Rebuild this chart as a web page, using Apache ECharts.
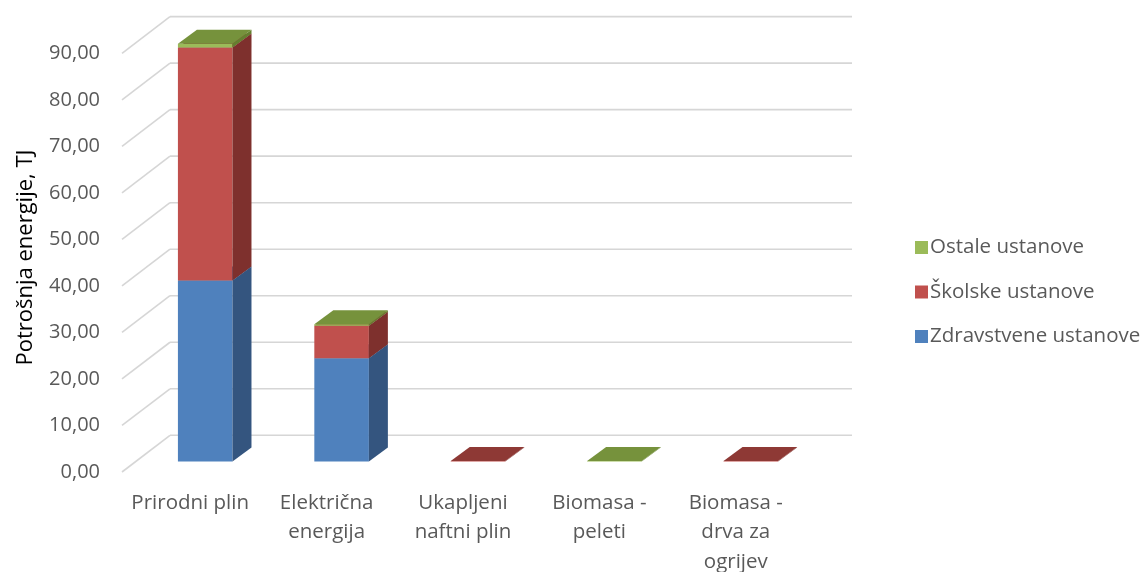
<!DOCTYPE html>
<html>
<head>
<meta charset="utf-8">
<script src="https://cdn.jsdelivr.net/npm/echarts@6/dist/echarts.min.js"></script>
<style>html,body{margin:0;padding:0;background:#fff;}#c{width:1143px;height:572px;}</style>
</head>
<body>
<div id="c"></div>
<script>
// ---- data ----
const categories = ['Prirodni plin', 'Električna\nenergija', 'Ukapljeni\nnaftni plin', 'Biomasa -\npeleti', 'Biomasa -\ndrva za\nogrijev'];
const seriesNames = ['Zdravstvene ustanove', 'Školske ustanove', 'Ostale ustanove'];
const zdravstvene = [38.9, 22.2, 0, 0, 0];
const skolske = [50.1, 7.0, 0.1, 0, 0.1];
const ostale = [0.8, 0.3, 0, 0.1, 0];
const yTicks = [0, 10, 20, 30, 40, 50, 60, 70, 80, 90];

// ---- styling / 3D projection offsets (pixels) ----
const FONT = 'Open Sans';
const BAR_OFF = [15, -10.5];   // bar front plane relative to floor front edge
const BAR_DEPTH = [19, -14];   // bar depth
const WALL_OFF = [48, -36.7];  // back wall relative to floor front edge
const faceColors = [
  { front: '#4F81BD', side: '#34557F', top: '#3F6A9E' },
  { front: '#C0504D', side: '#7E302D', top: '#8E3935' },
  { front: '#9BBB59', side: '#64802F', top: '#76923C' }
];
const allValues = [zdravstvene, skolske, ostale];

function stackBase(si, i) {
  let s = 0;
  for (let k = 0; k < si; k++) s += allValues[k][i];
  return s;
}

function gridRender(params, api) {
  const cs = params.coordSys;
  const v = api.value(1);
  const y = api.coord([0, v])[1];
  const left = cs.x, right = cs.x + cs.width;
  const st = { stroke: '#D6D6D6', lineWidth: 1.6 };
  return {
    type: 'group',
    children: [
      { type: 'line', shape: { x1: left, y1: y, x2: left + WALL_OFF[0], y2: y + WALL_OFF[1] }, style: st },
      { type: 'line', shape: { x1: left + WALL_OFF[0], y1: y + WALL_OFF[1], x2: right + WALL_OFF[0], y2: y + WALL_OFF[1] }, style: st }
    ]
  };
}

function makeBarRender(si) {
  const c = faceColors[si];
  return function (params, api) {
    const i = api.value(0), v = api.value(1), base = api.value(2);
    if (!(v > 0)) return null;
    const bw = api.size([1, 0])[0] * 0.4;
    const pb = api.coord([i, base]);
    const pt = api.coord([i, base + v]);
    const x0 = pb[0] - bw / 2 + BAR_OFF[0];
    const x1 = x0 + bw;
    const yb = pb[1] + BAR_OFF[1];
    const yt = pt[1] + BAR_OFF[1];
    const dx = BAR_DEPTH[0], dy = BAR_DEPTH[1];
    return {
      type: 'group',
      children: [
        { type: 'polygon', shape: { points: [[x0, yb], [x1, yb], [x1, yt], [x0, yt]] }, style: { fill: c.front } },
        { type: 'polygon', shape: { points: [[x1, yb], [x1 + dx, yb + dy], [x1 + dx, yt + dy], [x1, yt]] }, style: { fill: c.side } },
        { type: 'polygon', shape: { points: [[x0, yt], [x1, yt], [x1 + dx, yt + dy], [x0 + dx, yt + dy]] }, style: { fill: c.top } }
      ]
    };
  };
}

const chart = echarts.init(document.getElementById('c'), null, { renderer: 'canvas' });

const series = [{
  type: 'custom',
  name: 'grid',
  silent: true,
  z: 1,
  renderItem: gridRender,
  data: yTicks.map(t => [0, t]),
  encode: { x: 0, y: 1 }
}];
allValues.forEach((vals, si) => {
  series.push({
    type: 'custom',
    name: seriesNames[si],
    z: 2,
    itemStyle: { color: faceColors[si].front },
    renderItem: makeBarRender(si),
    data: vals.map((v, i) => [i, v, stackBase(si, i)]),
    encode: { x: 0, y: 1 }
  });
});

chart.setOption({
  animation: false,
  backgroundColor: '#fff',
  textStyle: { fontFamily: FONT },
  grid: { left: 122, right: 339, top: 53.3, bottom: 100, containLabel: false, outerBoundsMode: 'none' },
  xAxis: {
    type: 'category',
    data: categories,
    axisLine: { show: false },
    axisTick: { show: false },
    splitLine: { show: false },
    axisLabel: { interval: 0, margin: 16, color: '#595959', fontSize: 20.5, lineHeight: 29.5, fontFamily: FONT }
  },
  yAxis: {
    type: 'value',
    min: 0, max: 90, interval: 10,
    axisLine: { show: false },
    axisTick: { show: false },
    splitLine: { show: false },
    axisLabel: {
      margin: 22, color: '#595959', fontSize: 20, fontFamily: FONT,
      formatter: v => v.toFixed(2).replace('.', ',')
    }
  },
  graphic: [{
    type: 'text',
    x: 26, y: 257.5,
    rotation: Math.PI / 2,
    style: {
      text: 'Potrošnja energije, TJ',
      fill: '#000',
      font: '22px "Open Sans"',
      align: 'center',
      verticalAlign: 'middle'
    }
  }],
  legend: {
    data: ['Ostale ustanove', 'Školske ustanove', 'Zdravstvene ustanove'],
    orient: 'vertical',
    left: 910, top: 232,
    icon: 'rect', itemWidth: 13, itemHeight: 13, itemGap: 23.5,
    textStyle: { color: '#595959', fontSize: 20.5, lineHeight: 20, fontFamily: FONT, padding: [0, 0, 0, -3] }
  },
  series: series
});
</script>
</body>
</html>
